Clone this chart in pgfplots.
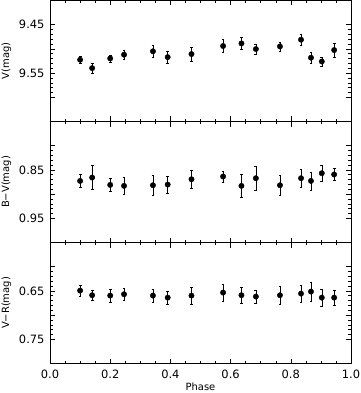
\documentclass[border=0pt]{standalone}
\usepackage{fontspec}
\setmainfont{DejaVu Sans}
\usepackage{pgfplots}
\pgfplotsset{compat=1.18}

\pgfplotsset{
  panel/.style={
    scale only axis, width=301bp, height=121bp,
    xmin=0, xmax=1, xtick={0,0.2,0.4,0.6,0.8,1.0}, minor x tick num=3,
    y dir=reverse, minor y tick num=4,
    tick align=inside, major tick length=5bp, minor tick length=2.7bp,
    axis line style={line width=0.7pt},
    every tick/.style={black, line width=0.5pt},
    tick label style={font=\fontsize{11.5}{13}\selectfont},
    label style={font=\fontsize{11.5}{13}\selectfont},
    yticklabel style={xshift=-2bp},
    xticklabel style={yshift=-3bp},
    every axis y label/.style={at={(axis description cs:0,0.5)}, xshift=-43.5bp, rotate=90, anchor=center},
    every axis x label/.style={at={(axis description cs:0.5,0)}, yshift=-23.5bp, anchor=center},
  },
  pts/.style={only marks, mark=*, black, mark size=2.7bp,
    mark options={draw=black, fill=black},
    error bars/.cd, y dir=both, y explicit,
    error bar style={line width=0.5pt, black},
    error mark options={rotate=90, mark size=1.4bp, line width=0.5pt, black}},
}

\begin{document}
\begin{tikzpicture}
\useasboundingbox (-50bp,-29.5bp) rectangle (311bp,363.5bp);

% V
\begin{axis}[panel, at={(0,242bp)}, anchor=south west,
  ymin=9.40, ymax=9.65, ytick={9.45,9.50,9.55,9.60}, yticklabels={9.45,,9.55,},
  xticklabels={}, ylabel={V(mag)}]
\addplot[pts] coordinates {
 (0.100,9.5225) +- (0,0.008)
 (0.140,9.5397) +- (0,0.010)
 (0.200,9.5197) +- (0,0.007)
 (0.246,9.5120) +- (0,0.0085)
 (0.342,9.5050) +- (0,0.012)
 (0.391,9.5170) +- (0,0.012)
 (0.470,9.5107) +- (0,0.0145)
 (0.575,9.4940) +- (0,0.013)
 (0.636,9.4887) +- (0,0.012)
 (0.684,9.5003) +- (0,0.010)
 (0.764,9.4949) +- (0,0.009)
 (0.834,9.4810) +- (0,0.011)
 (0.867,9.5183) +- (0,0.011)
 (0.903,9.5260) +- (0,0.0093)
 (0.944,9.5024) +- (0,0.015)
};
\end{axis}

% B-V
\begin{axis}[panel, at={(0,121bp)}, anchor=south west,
  ymin=0.75, ymax=1.00, ytick={0.80,0.85,0.90,0.95}, yticklabels={,0.85,,0.95},
  xticklabels={}, ylabel={B−V(mag)}]
\addplot[pts] coordinates {
 (0.100,0.8728) +- (0,0.013)
 (0.140,0.8658) +- (0,0.025)
 (0.200,0.8810) +- (0,0.0128)
 (0.246,0.8830) +- (0,0.0176)
 (0.342,0.8817) +- (0,0.020)
 (0.391,0.8803) +- (0,0.018)
 (0.470,0.8693) +- (0,0.019)
 (0.575,0.8637) +- (0,0.0115)
 (0.636,0.8830) +- (0,0.023)
 (0.684,0.8672) +- (0,0.024)
 (0.764,0.8817) +- (0,0.021)
 (0.834,0.8672) +- (0,0.019)
 (0.867,0.8728) +- (0,0.0187)
 (0.903,0.8568) +- (0,0.016)
 (0.944,0.8595) +- (0,0.0125)
};
\end{axis}

% V-R
\begin{axis}[panel, at={(0,0)}, anchor=south west,
  ymin=0.55, ymax=0.80, ytick={0.60,0.65,0.70,0.75}, yticklabels={,0.65,,0.75},
  xticklabels={0.0,0.2,0.4,0.6,0.8,1.0}, ylabel={V−R(mag)}, xlabel={Phase}]
\addplot[pts] coordinates {
 (0.100,0.6494) +- (0,0.0114)
 (0.140,0.6589) +- (0,0.0107)
 (0.200,0.6597) +- (0,0.0138)
 (0.246,0.6569) +- (0,0.012)
 (0.342,0.6597) +- (0,0.013)
 (0.391,0.6639) +- (0,0.014)
 (0.470,0.6597) +- (0,0.017)
 (0.575,0.6535) +- (0,0.017)
 (0.636,0.6589) +- (0,0.016)
 (0.684,0.6617) +- (0,0.013)
 (0.764,0.6589) +- (0,0.018)
 (0.834,0.6556) +- (0,0.017)
 (0.867,0.6514) +- (0,0.019)
 (0.903,0.6639) +- (0,0.018)
 (0.944,0.6639) +- (0,0.015)
};
\end{axis}
\end{tikzpicture}
\end{document}
